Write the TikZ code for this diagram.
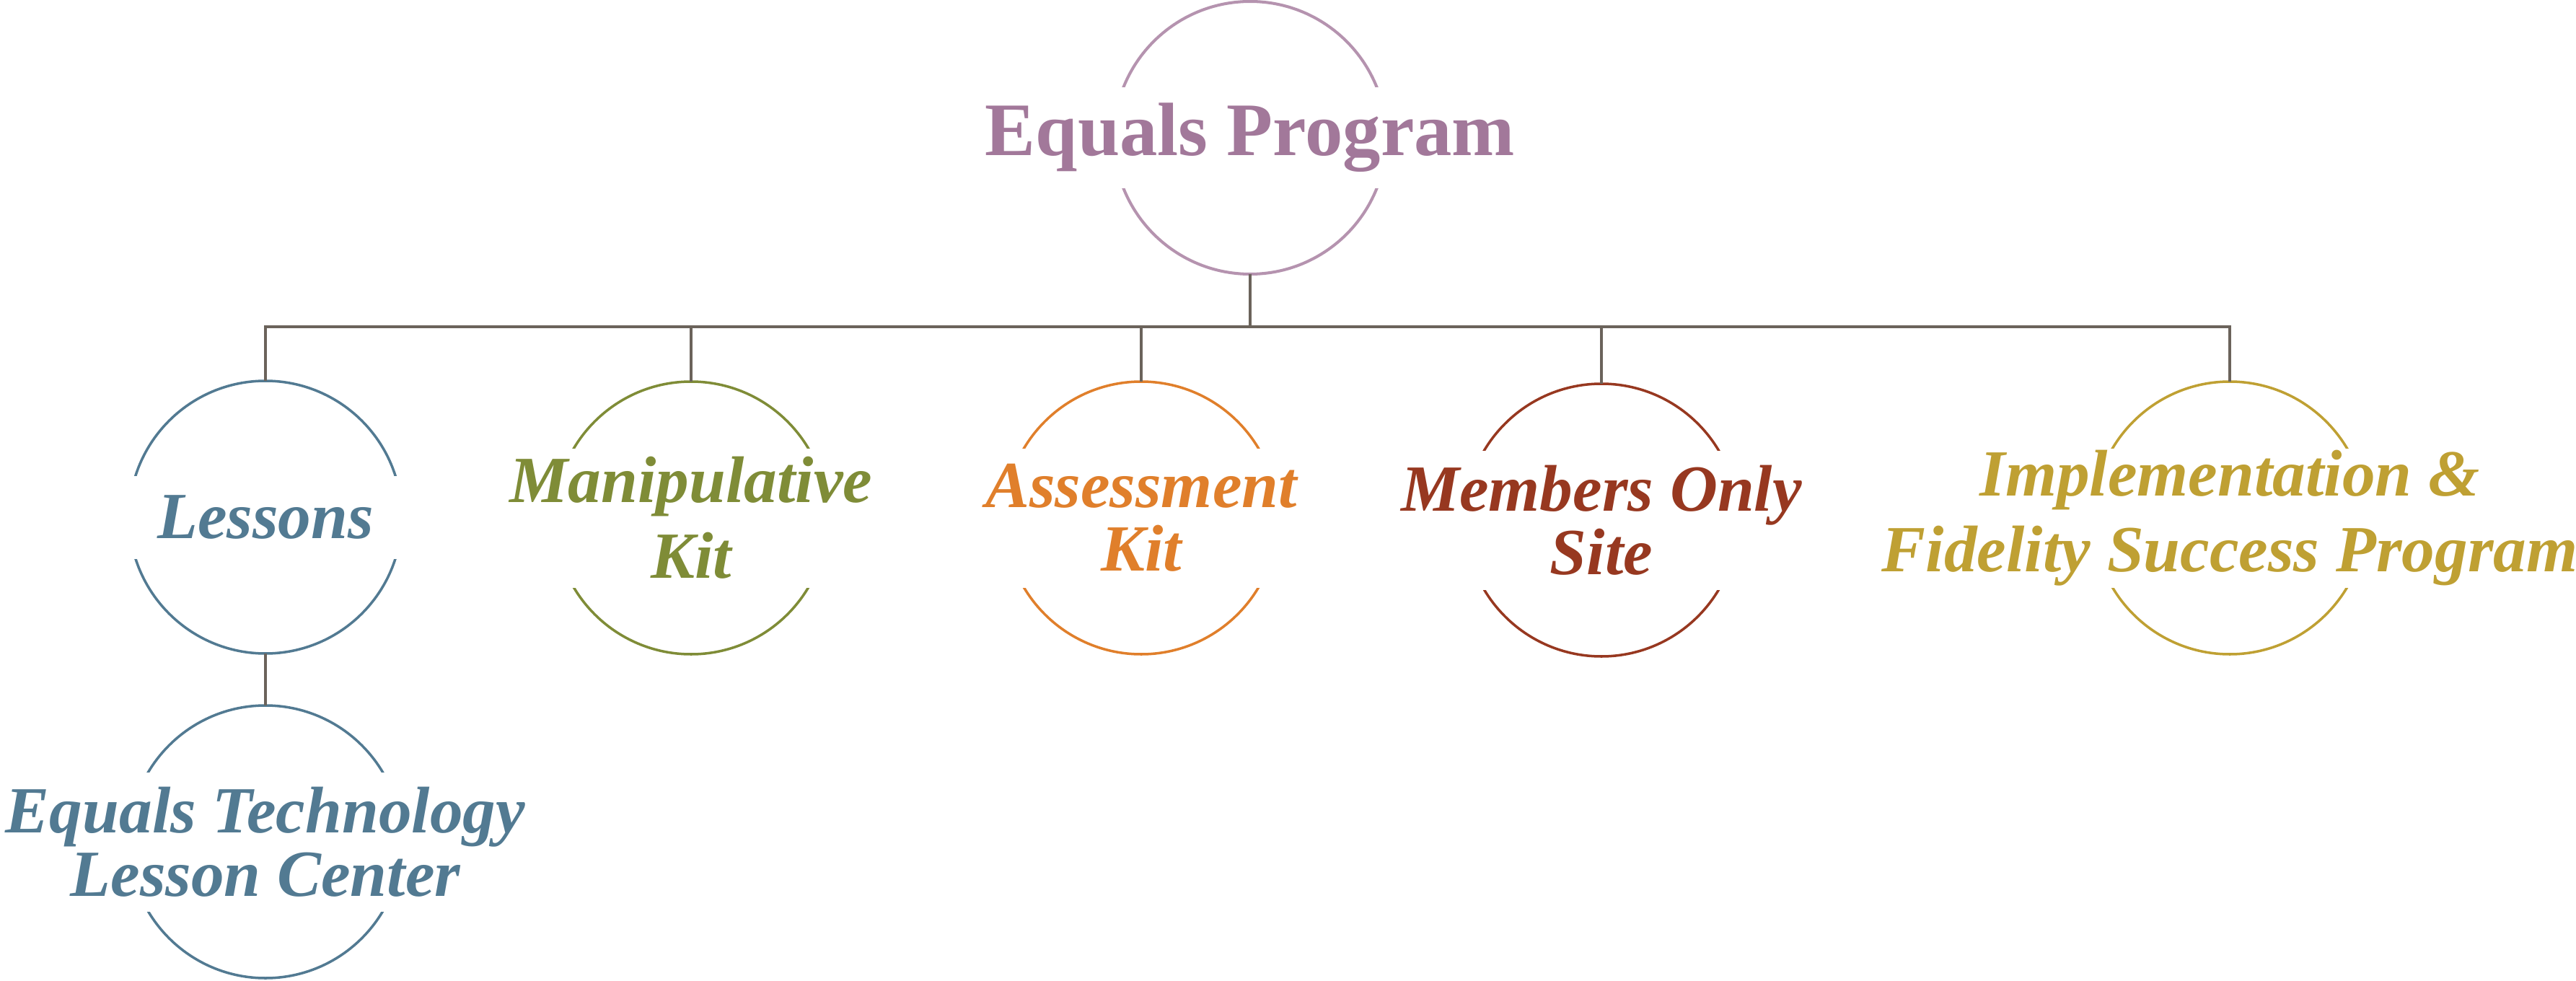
\documentclass[tikz,border=0pt]{standalone}
\usepackage{fontspec}
\setmainfont{Liberation Serif}
\usepackage{tikz}
\usetikzlibrary{positioning}
\usepackage{xcolor}

\definecolor{progpurple}{HTML}{A2789A}
\definecolor{progring}{HTML}{B593AF}
\definecolor{lessonblue}{HTML}{527A92}
\definecolor{kitolive}{HTML}{7F8C37}
\definecolor{assessorange}{HTML}{E07F2B}
\definecolor{memberrust}{HTML}{973820}
\definecolor{fidelitygold}{HTML}{BFA033}
\definecolor{linkgray}{HTML}{6B635B}

\begin{document}
\begin{tikzpicture}[
    ring/.style={circle, draw, line width=1pt, minimum size=3.78cm, inner sep=0pt, outer sep=0pt},
    tag/.style={rectangle, fill=white, inner sep=0pt, minimum width=4cm, align=center, font=\bfseries\itshape\fontsize{26}{25}\selectfont},
    looseline/.style={font=\bfseries\itshape\fontsize{26}{30}\selectfont},
    link/.style={draw=linkgray, line width=0.9pt}
]
    \useasboundingbox (0,0) rectangle (35.71,-13.60);

    \node[ring, draw=progring, line width=1.15pt] (prog) 	at (17.33,-1.91) {};
    \node[ring, draw=lessonblue] (lessons) 			at (3.68,-7.17) {};
    \node[ring, draw=lessonblue, below=0.72cm of lessons] (techcenter) {};
    \node[ring, draw=kitolive] (manipkit) 			at (9.58,-7.18) {};
    \node[ring, draw=assessorange] (assesskit) 		at (15.82,-7.18) {};
    \node[ring, draw=memberrust] (members) 			at (22.20,-7.21) {};
    \node[ring, draw=fidelitygold] (fidelity) 		at (30.91,-7.18) {};

    \node[tag, minimum height=1.40cm, text=progpurple, font=\bfseries\fontsize{29.8}{30}\selectfont] (prog-t) at (prog) {Equals Program};
    \node[tag, minimum height=1.15cm, text=lessonblue] (lessons-t) 		at (lessons) {Lessons};
    \node[tag, minimum height=1.93cm, text=lessonblue] (techcenter-t) 	at (techcenter) {Equals Technology\\Lesson Center};
    \node[tag, looseline, minimum height=1.93cm, text=kitolive] (manipkit-t) 	at (manipkit) {Manipulative\\Kit};
    \node[tag, minimum height=1.93cm, text=assessorange] (assesskit-t) 	at (assesskit) {Assessment\\Kit};
    \node[tag, minimum height=1.93cm, text=memberrust] (members-t) 		at (members) {Members Only\\Site};
    \node[tag, looseline, minimum height=1.93cm, text=fidelitygold] (fidelity-t) at (fidelity) {Implementation \&\\Fidelity Success Program};

    \draw[link] (prog.south) -- ++(0,-0.73) -| (lessons.north);
    \draw[link] (prog.south) -- ++(0,-0.73) -| (manipkit.north);
    \draw[link] (prog.south) -- ++(0,-0.73) -| (assesskit.north);
    \draw[link] (prog.south) -- ++(0,-0.73) -| (members.north);
    \draw[link] (prog.south) -- ++(0,-0.73) -| (fidelity.north);
    \draw[link] (lessons.south) -- (techcenter.north);

\end{tikzpicture}
\end{document}
